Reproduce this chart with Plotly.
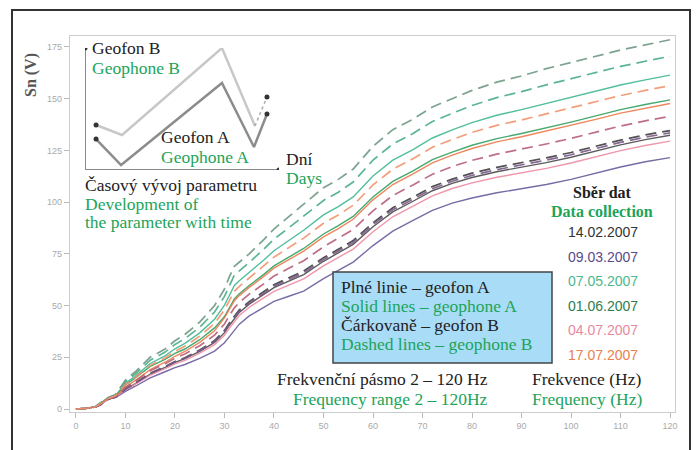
import plotly.graph_objects as go

# ---------------- data ----------------
freq = [0, 2, 4, 5, 6, 7, 8, 10, 12, 15, 18, 20, 22, 25, 28, 30, 31, 32, 33, 35, 38, 40,
        43, 46, 50, 53, 56, 60, 64, 68, 72, 76, 80, 85, 90, 95, 100, 105, 110, 115, 120]

dates = ["14.02.2007", "09.03.2007", "07.05.2007", "01.06.2007", "04.07.2007", "17.07.2007"]

# geophone A (solid lines)
a_1402 = [0, 0.3, 1.0, 2.2, 4.2, 5.2, 5.8, 9.5, 12.3, 16.9, 20.1, 22.5, 24.3, 27.8, 32.2, 36.9, 40.5, 43.9, 46.7, 50.7, 55.3, 58.7,
          61.8, 65.0, 71.4, 75.4, 79.6, 88.1, 95.3, 100.3, 105.5, 109.1, 111.9, 114.7, 116.9, 119.1, 121.7, 124.7, 127.7, 130.2, 132.3]
a_0903 = [0, 0.3, 1.0, 2.0, 4.0, 5.0, 5.5, 8.5, 11.0, 15.0, 18.0, 20.0, 21.5, 24.5, 28.0, 32.0, 35.0, 38.0, 41.0, 45.0, 49.0, 52.0,
          54.5, 57.0, 63.0, 67.0, 71.0, 79.0, 86.0, 91.0, 96.0, 99.5, 102.0, 104.5, 106.5, 108.5, 111.0, 114.0, 117.0, 119.5, 121.5]
a_0705 = [0, 0.3, 1.1, 2.7, 4.7, 5.7, 6.6, 12.4, 15.9, 22.0, 25.7, 29.1, 31.7, 36.8, 43.4, 50.2, 55.3, 59.7, 62.0, 66.0, 72.1, 76.5,
          81.5, 86.4, 93.8, 97.8, 102.5, 112.6, 120.3, 125.3, 131.0, 134.9, 138.4, 142.0, 144.7, 147.7, 150.6, 153.6, 156.6, 159.1, 161.4]
a_0106 = [0, 0.3, 1.1, 2.5, 4.5, 5.5, 6.2, 11.6, 15.0, 20.6, 24.0, 26.9, 29.0, 33.5, 39.2, 44.7, 49.2, 53.2, 55.7, 59.7, 65.2, 69.2,
          73.4, 77.6, 84.6, 88.6, 93.1, 102.5, 110.0, 115.0, 120.5, 124.2, 127.5, 130.7, 133.2, 135.9, 138.7, 141.7, 144.7, 147.2, 149.4]
a_0407 = [0, 0.3, 1.0, 2.1, 4.1, 5.1, 5.7, 9.3, 12.0, 16.4, 19.5, 21.8, 23.5, 27.0, 31.1, 35.6, 39.1, 42.3, 45.2, 49.2, 53.6, 56.9,
          59.9, 62.9, 69.2, 73.2, 77.3, 85.7, 92.9, 97.9, 103.0, 106.6, 109.3, 112.0, 114.1, 116.3, 118.9, 121.9, 124.9, 127.4, 129.5]
a_1707 = [0, 0.3, 1.1, 2.4, 4.4, 5.4, 6.0, 10.6, 13.8, 19.0, 22.6, 25.5, 27.8, 32.2, 37.8, 44.0, 48.3, 52.3, 54.8, 58.8, 64.2, 68.1,
          72.2, 76.3, 83.2, 87.2, 91.7, 101.1, 108.5, 113.5, 119.0, 122.7, 125.9, 129.1, 131.6, 134.3, 137.0, 140.0, 143.0, 145.5, 147.7]

# geophone B (dashed lines)
b_1402 = [0, 0.3, 1.0, 2.2, 4.2, 5.2, 5.8, 9.8, 12.6, 17.3, 20.5, 23.0, 24.8, 28.5, 33.1, 38.0, 41.7, 45.1, 47.9, 51.9, 56.6, 60.1,
          63.4, 66.7, 73.1, 77.1, 81.4, 90.0, 97.3, 102.3, 107.5, 111.1, 114.0, 116.8, 119.0, 121.4, 124.0, 127.0, 130.0, 132.5, 134.6]
b_0903 = [0, 0.3, 1.0, 2.2, 4.2, 5.2, 5.8, 9.7, 12.5, 17.1, 20.3, 22.7, 24.5, 28.2, 32.6, 37.5, 41.1, 44.5, 47.3, 51.3, 55.9, 59.4,
          62.6, 65.8, 72.2, 76.2, 80.5, 89.1, 96.3, 101.3, 106.5, 110.1, 112.9, 115.7, 117.9, 120.3, 122.9, 125.9, 128.9, 131.4, 133.5]
b_0705 = [0, 0.3, 1.2, 2.9, 4.9, 5.9, 6.8, 13.2, 17.0, 23.6, 27.5, 31.2, 34.0, 39.5, 46.9, 54.4, 60.0, 64.7, 66.8, 70.8, 77.4, 82.1,
          87.6, 93.1, 100.8, 104.8, 109.7, 120.3, 128.1, 133.1, 139.0, 142.9, 146.7, 150.5, 153.4, 156.7, 159.6, 162.6, 165.6, 168.1, 170.5]
b_0106 = [0, 0.3, 1.2, 3.0, 5.0, 6.0, 7.0, 14.0, 18.0, 25.0, 29.0, 33.0, 36.0, 42.0, 50.0, 58.0, 64.0, 69.0, 71.0, 75.0, 82.0, 87.0,
          93.0, 99.0, 107.0, 111.0, 116.0, 127.0, 135.0, 140.0, 146.0, 150.0, 154.0, 158.0, 161.0, 164.5, 167.5, 170.5, 173.5, 176.0, 178.5]
b_0407 = [0, 0.3, 1.1, 2.4, 4.4, 5.4, 6.0, 10.4, 13.5, 18.5, 21.9, 24.6, 26.6, 30.6, 35.7, 41.1, 45.2, 48.9, 51.5, 55.5, 60.6, 64.3,
          68.0, 71.7, 78.4, 82.4, 86.8, 95.8, 103.2, 108.2, 113.5, 117.2, 120.2, 123.2, 125.6, 128.1, 130.8, 133.8, 136.8, 139.3, 141.5]
b_1707 = [0, 0.3, 1.1, 2.6, 4.6, 5.6, 6.4, 11.9, 15.3, 21.1, 24.7, 27.9, 30.3, 35.2, 41.4, 47.9, 52.7, 56.9, 59.3, 63.3, 69.1, 73.4,
          78.0, 82.6, 89.8, 93.8, 98.5, 108.3, 115.9, 120.9, 126.5, 130.3, 133.7, 137.1, 139.7, 142.7, 145.5, 148.5, 151.5, 154.0, 156.3]

solid_series = [a_1402, a_0903, a_0705, a_0106, a_0407, a_1707]
dashed_series = [b_1402, b_0903, b_0705, b_0106, b_0407, b_1707]

x_ticks = [0, 10, 20, 30, 40, 50, 60, 70, 80, 90, 100, 110, 120]
y_ticks = [0, 25, 50, 75, 100, 125, 150, 175]

# inset schematic (time development of parameter)
inset_days_b = [0.57, 1.91, 7.06, 8.76]
inset_val_b = [3.69, 2.87, 10.0, 3.61]
inset_days_b_end = [8.76, 9.38]
inset_val_b_end = [3.61, 5.98]
inset_days_a = [0.57, 1.86, 7.06, 8.71, 9.38]
inset_val_a = [2.54, 0.41, 7.13, 1.89, 4.59]

# ---------------- styles ----------------
solid_colors = ["#4a4a4a", "#6a5c9c", "#3fb894", "#33a060", "#f08aa2", "#ee7a4e"]
dashed_colors = ["#404040", "#7a5a8a", "#4aae88", "#6e9a84", "#b8607a", "#f2946c"]
date_colors = ["#333333", "#5a4a8a", "#4cb88e", "#2e7d4e", "#e8899e", "#e9804f"]
GREEN = "#1ca45a"
SERIF = "Liberation Serif"
FS = 17.5

L, R, T, B = 70, 675, 36, 412
W, H = 697, 450


def px(x):
    return (x - L) / (R - L)


def py(y):
    return (B - y) / (B - T)


fig = go.Figure()

for s, c in zip(solid_series, solid_colors):
    fig.add_trace(go.Scatter(x=freq, y=s, mode="lines", line=dict(color=c, width=1.4),
                             opacity=0.9, hoverinfo="skip"))
for s, c in zip(dashed_series, dashed_colors):
    fig.add_trace(go.Scatter(x=freq, y=s, mode="lines",
                             line=dict(color=c, width=1.7, dash="11px,6px"),
                             opacity=0.9, hoverinfo="skip"))

# inset traces
fig.add_trace(go.Scatter(x=[0, 0, 10], y=[10, 0, 0], mode="lines", xaxis="x2", yaxis="y2",
                         line=dict(color="#8a8a8a", width=2), hoverinfo="skip"))
fig.add_trace(go.Scatter(x=[0, 10], y=[10, 0], mode="markers", xaxis="x2", yaxis="y2",
                         marker=dict(color="#333", size=5), hoverinfo="skip"))
fig.add_trace(go.Scatter(x=inset_days_b, y=inset_val_b, mode="lines", xaxis="x2", yaxis="y2",
                         line=dict(color="#c8c8c8", width=2.5), hoverinfo="skip"))
fig.add_trace(go.Scatter(x=inset_days_b_end, y=inset_val_b_end, mode="lines", xaxis="x2", yaxis="y2",
                         line=dict(color="#aaaaaa", width=1.5, dash="dot"), hoverinfo="skip"))
fig.add_trace(go.Scatter(x=inset_days_a, y=inset_val_a, mode="lines", xaxis="x2", yaxis="y2",
                         line=dict(color="#8c8c8c", width=2.5), hoverinfo="skip"))
fig.add_trace(go.Scatter(x=[inset_days_b[0], inset_days_b_end[-1], inset_days_a[0], inset_days_a[-1]],
                         y=[inset_val_b[0], inset_val_b_end[-1], inset_val_a[0], inset_val_a[-1]],
                         mode="markers", xaxis="x2", yaxis="y2",
                         marker=dict(color="#333", size=5), hoverinfo="skip"))

ann = []


def text(x, y, s, color="#222", size=FS, anchor="left", family=SERIF, bold=False):
    if bold:
        s = "<b>" + s + "</b>"
    ann.append(dict(x=px(x), y=py(y), xref="paper", yref="paper", text=s, showarrow=False,
                    xanchor=anchor, yanchor="middle", borderpad=0,
                    font=dict(family=family, size=size, color=color)))


# inset texts
text(91, 48, "Geofon B")
text(91, 68, "Geophone B", GREEN)
text(160, 137, "Geofon A")
text(160, 157, "Geophone A", GREEN)
text(285, 159, "Dní")
text(285, 178, "Days", GREEN)
text(84, 185, "Časový vývoj parametru")
text(84, 204, "Development of", GREEN)
text(84, 222, "the parameter with time", GREEN)

# data collection legend
text(602, 192, "Sběr dat", "#222", 16, "center", bold=True)
text(602, 211, "Data collection", GREEN, 16, "center", bold=True)
for i, (d, c) in enumerate(zip(dates, date_colors)):
    text(603, 232 + i * 24.5, d, c, 14, "center", family="Liberation Sans")

# line style box
text(340, 287, "Plné linie – geofon A")
text(340, 306, "Solid lines – geophone A", GREEN)
text(340, 325, "Čárkovaně – geofon B")
text(340, 344, "Dashed lines – geophone B", GREEN)

# bottom texts
text(489, 379, "Frekvenční pásmo 2 – 120 Hz", anchor="right")
text(489, 398.5, "Frequency range 2 – 120Hz", GREEN, anchor="right")
text(531, 379, "Frekvence (Hz)")
text(531, 398.5, "Frequency (Hz)", GREEN)

# y-axis title
ann.append(dict(x=px(31), y=py(75), xref="paper", yref="paper", text="<b>Sn (V)</b>",
                showarrow=False, textangle=-90, xanchor="center", yanchor="middle",
                font=dict(family=SERIF, size=16, color="#555")))

shapes = [
    dict(type="rect", xref="paper", yref="paper", x0=px(333), x1=px(552), y0=py(363), y1=py(272),
         fillcolor="#a9dcf6", line=dict(color="#444", width=1.5), layer="above"),
    dict(type="rect", xref="paper", yref="paper", x0=px(12), x1=px(690), y0=py(470), y1=py(10),
         line=dict(color="#333", width=2), fillcolor="rgba(0,0,0,0)"),
]

fig.update_layout(
    width=W, height=H,
    margin=dict(l=L, r=W - R, t=T, b=H - B),
    paper_bgcolor="white", plot_bgcolor="white",
    showlegend=False,
    xaxis=dict(range=[-1.2, 121.0], tickvals=x_ticks, ticktext=[str(v) for v in x_ticks],
               showgrid=False, zeroline=False, showline=True, linecolor="#cccccc", linewidth=1.2,
               mirror=True, ticks="outside", ticklen=5, tickcolor="#bbbbbb",
               tickfont=dict(family="Liberation Sans", size=9, color="#aaaaaa")),
    yaxis=dict(range=[-1.45, 180.3], tickvals=y_ticks, ticktext=[str(v) for v in y_ticks],
               showgrid=False, zeroline=False, showline=True, linecolor="#cccccc", linewidth=1.2,
               mirror=True, ticks="outside", ticklen=5, tickcolor="#bbbbbb",
               tickfont=dict(family="Liberation Sans", size=9, color="#aaaaaa")),
    xaxis2=dict(domain=[px(85), px(279)], range=[0, 10], anchor="y2", visible=False),
    yaxis2=dict(domain=[py(170), py(48)], range=[0, 10], anchor="x2", visible=False),
    annotations=ann,
    shapes=shapes,
)

fig.write_html("out.html", config={"displayModeBar": False},
               post_script="document.body.style.margin='0';document.body.style.overflow='hidden';")
